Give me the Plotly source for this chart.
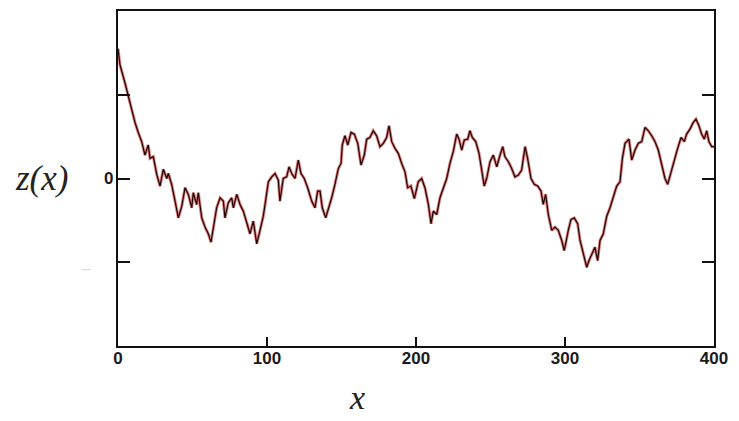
import plotly.graph_objects as go

# sample position x and surface height z(x)
x_vals = [0, 1.3, 4.7, 6.9, 9.2, 11.4, 13.6, 15.9, 18.1, 20.3, 21.5, 23.7, 26.0, 28.2, 30.4, 32.7,
          33.8, 36.0, 38.3, 40.5, 42.8, 45.0, 47.2, 49.5, 50.5, 52.8, 53.9, 56.2, 58.4, 60.6,
          62.4, 64.0, 66.2, 68.5, 70.7, 71.8, 74.0, 76.3, 77.4, 79.7, 81.9, 84.1, 86.4, 88.6,
          90.8, 93.1, 95.3, 97.5,
          98.7, 100.9, 103.2, 105.4, 107.6, 108.7, 110.9, 113.2, 114.8, 116.6, 118.8, 121.0,
          122.8, 125.0, 127.3, 130.0, 132.2, 134.0, 135.6, 137.1, 139.4, 141.6, 143.4, 145.6,
          147.9, 149.7, 150.5, 152.3, 154.2, 156.4, 158.6, 160.9, 163.1, 165.3, 166.9, 169.1,
          171.3, 173.6, 175.8, 178.1, 180.3, 181.9, 183.7, 185.9, 188.1, 190.4, 192.6, 194.4,
          196.6, 198.9,
          201.5, 203.8, 206.0, 208.3, 210.1, 211.6, 213.9, 216.1, 218.3, 220.6, 222.8, 225.0,
          227.3, 228.9, 230.7, 232.4, 234.7, 236.2, 237.8, 240.1, 242.3, 244.1, 245.8, 247.4,
          249.7, 251.9, 254.2, 256.4, 258.2, 259.7, 262.0, 264.2, 266.4, 268.7, 270.9, 273.2,
          274.9, 277.2, 279.4, 281.7, 283.9, 285.4, 287.0, 288.8, 291.1, 293.3, 295.5, 297.8,
          299.5,
          302.2, 304.0, 306.2, 308.5, 310.1, 312.3, 314.6, 316.1, 318.3, 320.1, 321.9, 323.5,
          325.7, 328.0, 330.2, 332.4, 334.7, 336.9, 338.5, 340.3, 342.9, 344.8, 347.0, 349.2,
          351.5, 353.7, 355.9, 358.2, 360.4, 362.6, 364.9, 367.1, 368.9, 371.1, 373.4, 375.6,
          377.9, 380.1, 381.6, 383.9, 386.1, 387.9, 389.9, 391.7, 393.5, 395.1, 396.6, 398.5,
          400.0]
z_vals = [1.55, 1.36, 1.14, 0.98, 0.81, 0.67, 0.55, 0.44, 0.28, 0.40, 0.24, 0.26, 0.05, -0.09, 0.11, 0.00,
          0.06, -0.07, -0.27, -0.47, -0.33, -0.11, -0.19, -0.35, -0.17, -0.31, -0.17, -0.47, -0.58, -0.66,
          -0.76, -0.60, -0.35, -0.23, -0.27, -0.47, -0.29, -0.23, -0.35, -0.19, -0.31, -0.39, -0.54, -0.66,
          -0.51, -0.78, -0.62, -0.45,
          -0.31, -0.04, 0.02, 0.06, -0.02, -0.27, 0.00, 0.02, 0.14, 0.06, 0.00, 0.22,
          0.06, 0.00, -0.11, -0.27, -0.35, -0.15, -0.15, -0.35, -0.47, -0.35, -0.23, -0.07,
          0.12, 0.18, 0.40, 0.51, 0.40, 0.55, 0.53, 0.42, 0.16, 0.28, 0.47, 0.49,
          0.57, 0.51, 0.38, 0.42, 0.49, 0.63, 0.44, 0.36, 0.30, 0.18, 0.08, -0.11,
          -0.09, -0.24,
          -0.04, 0.00, -0.11, -0.31, -0.54, -0.39, -0.43, -0.23, -0.11, 0.00, 0.18, 0.32,
          0.53, 0.47, 0.34, 0.46, 0.47, 0.57, 0.49, 0.44, 0.30, 0.10, -0.09, 0.00,
          0.20, 0.28, 0.14, 0.28, 0.38, 0.26, 0.20, 0.12, 0.02, 0.04, 0.10, 0.38,
          0.24, 0.00, -0.07, -0.09, -0.15, -0.31, -0.19, -0.43, -0.62, -0.58, -0.62, -0.74,
          -0.86,
          -0.62, -0.49, -0.47, -0.54, -0.74, -0.90, -1.06, -0.98, -0.90, -0.82, -0.98, -0.74,
          -0.66, -0.45, -0.35, -0.23, -0.09, -0.04, 0.24, 0.42, 0.47, 0.22, 0.34, 0.42,
          0.44, 0.61, 0.57, 0.51, 0.44, 0.34, 0.18, 0.00, -0.07, 0.08, 0.24, 0.36,
          0.49, 0.44, 0.53, 0.59, 0.67, 0.71, 0.63, 0.53, 0.47, 0.57, 0.44, 0.38,
          0.38]

x_ticks = [0, 100, 200, 300, 400]
x_tick_labels = ["0", "100", "200", "300", "400"]
y_ticks = [-1, 0, 1]
y_tick_labels = ["", "0", ""]

# page body has an 8px margin, so the figure is shrunk and offset accordingly
W, H = 731, 413
ML, MR, MT, MB = 110, 25, 1, 75
plot_w = W - ML - MR
plot_h = H - MT - MB

TICK_FONT = dict(family="Liberation Sans", size=17, color="#1a1a1a", weight="bold")


def px_x(page_x):
    return (page_x - 8 - ML) / plot_w


def px_y(page_y):
    return (H - MB - (page_y - 8)) / plot_h


fig = go.Figure()
# reddish halo underneath (same data)
fig.add_trace(go.Scatter(x=x_vals, y=z_vals, mode="lines",
                         line=dict(color="rgba(200,40,40,0.6)", width=3.0),
                         hoverinfo="skip", showlegend=False))
fig.add_trace(go.Scatter(x=x_vals, y=z_vals, mode="lines",
                         line=dict(color="#1e0303", width=1.2),
                         showlegend=False))

fig.update_layout(
    width=W, height=H,
    margin=dict(l=ML, r=MR, t=MT, b=MB),
    paper_bgcolor="white", plot_bgcolor="white",
    font=dict(family="Liberation Sans", size=17, color="#111"),
    xaxis=dict(range=[0, 400], tickvals=x_ticks, ticktext=x_tick_labels,
               ticks="inside", ticklen=9, tickwidth=1.5, tickcolor="#111",
               showline=True, linecolor="#111", linewidth=2.4, mirror=True,
               showgrid=False, zeroline=False, ticklabelstandoff=-5,
               tickfont=TICK_FONT),
    yaxis=dict(range=[-2, 2], tickvals=y_ticks, ticktext=y_tick_labels,
               ticks="inside", ticklen=12, tickwidth=1.5, tickcolor="#111",
               showline=True, linecolor="#111", linewidth=2.4, mirror="ticks",
               showgrid=False, zeroline=False, ticklabelstandoff=-1,
               tickfont=TICK_FONT),
    annotations=[
        dict(text="<i>z(x)</i>", x=px_x(41), y=px_y(178), xref="paper", yref="paper",
             xanchor="center", yanchor="middle", showarrow=False,
             font=dict(family="Liberation Serif", size=35, color="#222")),
        dict(text="<i>x</i>", x=px_x(357), y=px_y(398), xref="paper", yref="paper",
             xanchor="center", yanchor="middle", showarrow=False,
             font=dict(family="Liberation Serif", size=34, color="#222")),
        dict(text="–", x=px_x(86), y=px_y(268), xref="paper", yref="paper",
             xanchor="center", yanchor="middle", showarrow=False,
             font=dict(family="Liberation Sans", size=16, color="#dcdcdc")),
    ],
)

fig.write_html("out.html")
